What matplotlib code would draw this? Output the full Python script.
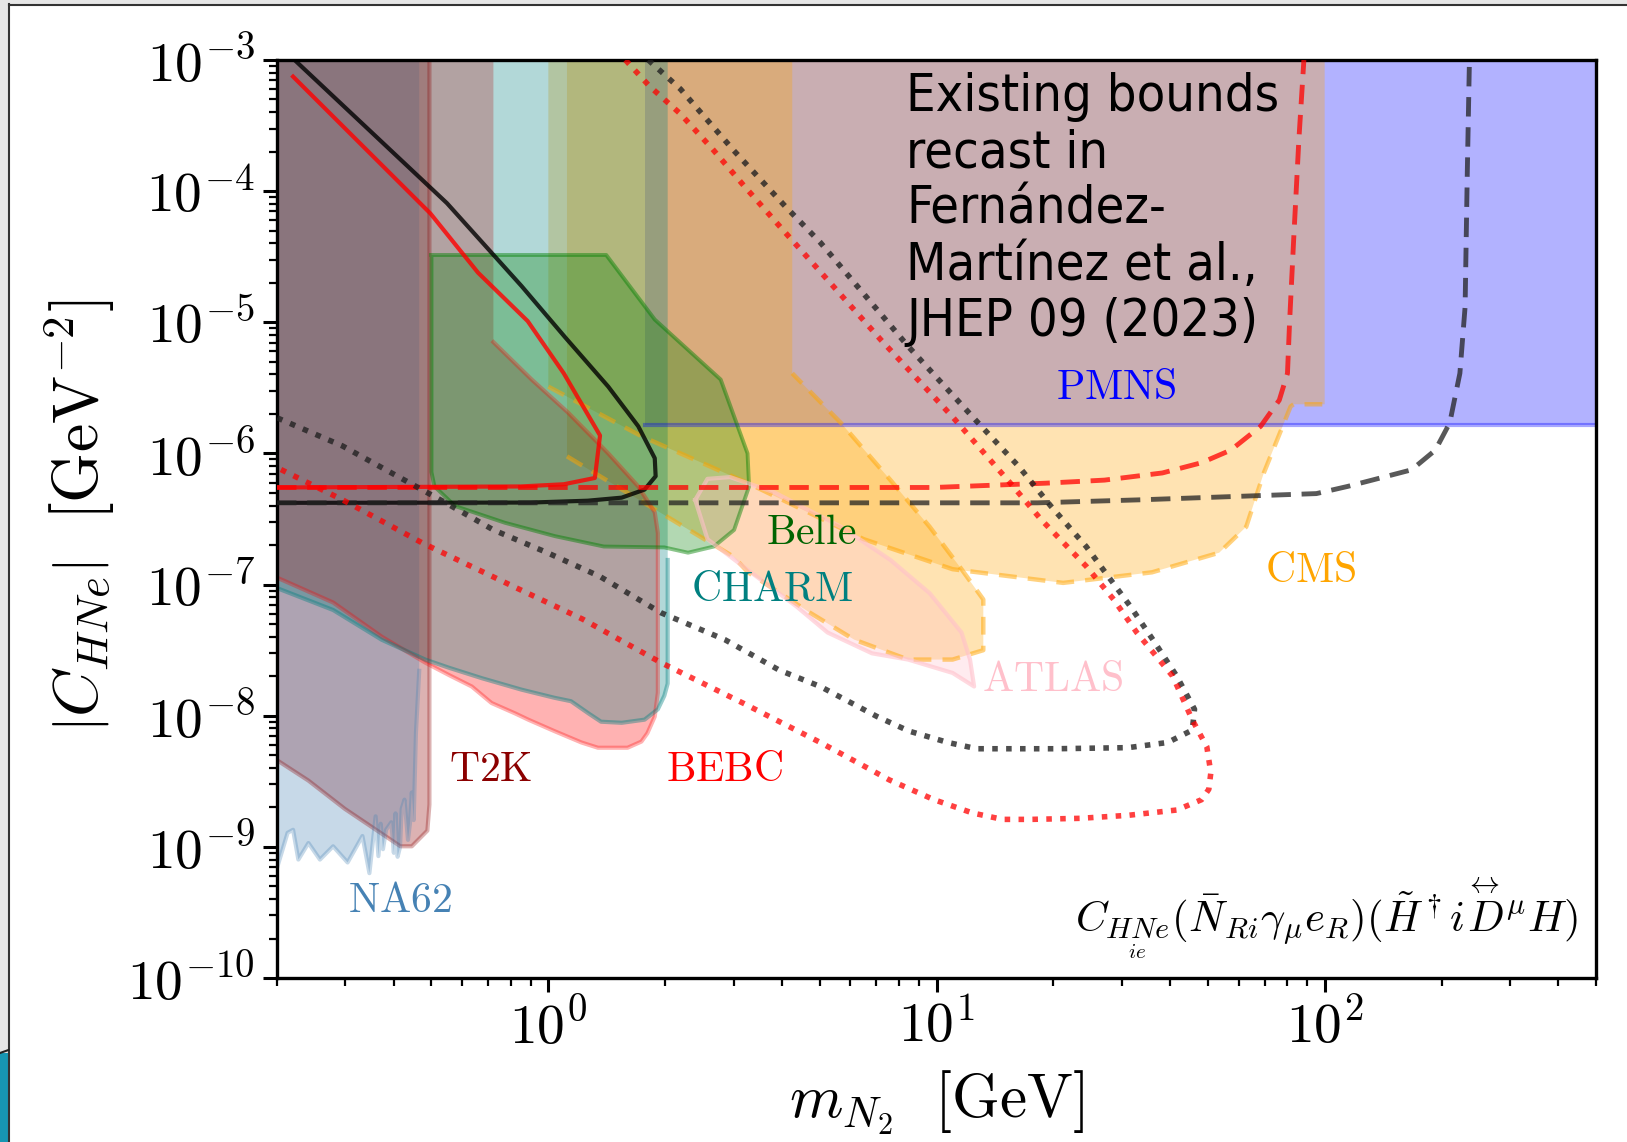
import numpy as np
import matplotlib
matplotlib.use("Agg")
import matplotlib.pyplot as plt
from matplotlib.ticker import LogLocator, FuncFormatter, NullFormatter
from matplotlib.patches import Rectangle
from matplotlib.lines import Line2D

plt.rcParams['mathtext.fontset'] = 'cm'
plt.rcParams['font.family'] = ['DejaVu Sans']

# ---------------- axis ranges ----------------
XMIN, XMAX = 0.2, 500.0
YMIN, YMAX = 1e-10, 1e-3

# ---------------- excluded regions (lower boundaries in GeV, GeV^-2) ----------------
na62_m = [0.200, 0.213, 0.220, 0.227, 0.241, 0.258, 0.279, 0.304, 0.332, 0.346, 0.359,
          0.365, 0.370, 0.375, 0.382, 0.394, 0.400, 0.404, 0.409, 0.415, 0.419, 0.426,
          0.435, 0.440, 0.445, 0.450, 0.456, 0.465]
na62_c = [6.9e-10, 1.28e-9, 1.35e-9, 8.0e-10, 1.07e-9, 8.0e-10, 1.01e-9, 7.6e-10, 1.21e-9,
          6.3e-10, 1.71e-9, 8.5e-10, 1.5e-9, 9.6e-10, 1.35e-9, 1.54e-9, 9.0e-10, 1.8e-9,
          8.4e-10, 1.0e-9, 1.95e-9, 2.29e-9, 1.13e-9, 1.5e-9, 2.6e-9, 1.6e-9, 7.4e-9, 2.2e-8]

t2k_m = [0.200, 0.241, 0.299, 0.340, 0.416, 0.445, 0.488, 0.494]
t2k_c = [4.58e-9, 3.2e-9, 1.95e-9, 1.51e-9, 1.01e-9, 1.01e-9, 1.33e-9, 2.1e-9]

bebc_low_m = [0.200, 0.279, 0.3725, 0.482, 0.555, 0.635, 0.714, 0.822, 0.89, 1.037, 1.217,
              1.342, 1.60, 1.737, 1.80, 1.88, 1.915, 1.915]
bebc_low_c = [1.13e-7, 7.3e-8, 4.0e-8, 2.54e-8, 2.04e-8, 1.67e-8, 1.25e-8, 1.04e-8, 9.3e-9,
              7.63e-9, 6.25e-9, 5.7e-9, 5.7e-9, 6.35e-9, 7.36e-9, 9.85e-9, 1.50e-8, 2.47e-7]
bebc_top_m = [1.88, 1.705, 1.427, 1.124, 0.906, 0.722]
bebc_top_c = [3.56e-7, 5.6e-7, 1.0e-6, 2.05e-6, 3.66e-6, 7.06e-6]

charm_m = [0.200, 0.279, 0.3725, 0.482, 0.555, 0.675, 0.853, 1.037, 1.144, 1.27, 1.367,
           1.545, 1.77, 1.915, 1.99, 2.03, 2.03]
charm_c = [9.4e-8, 6.4e-8, 3.79e-8, 2.68e-8, 2.32e-8, 1.93e-8, 1.58e-8, 1.37e-8, 1.29e-8,
           1.04e-8, 9.0e-9, 8.83e-9, 9.33e-9, 1.12e-8, 1.42e-8, 1.76e-8, 1.54e-7]

belle_m = [0.50, 1.41, 1.88, 2.78, 3.26, 3.29, 3.01, 2.67, 2.29, 1.99, 1.39, 1.04, 0.773,
           0.575, 0.509, 0.50]
belle_c = [3.26e-5, 3.26e-5, 1.05e-5, 3.66e-6, 1.0e-6, 5.6e-7, 2.61e-7, 1.95e-7, 1.75e-7,
           1.92e-7, 1.95e-7, 2.34e-7, 2.96e-7, 3.97e-7, 5.6e-7, 7.2e-7]

atlas_m = [2.39, 2.57, 3.35, 4.36, 5.24, 6.82, 8.45, 11.0, 12.5, 12.2, 11.6, 9.6, 7.61,
           5.67, 3.83, 2.94, 2.57]
atlas_c = [4.42e-7, 2.22e-7, 1.22e-7, 6.8e-8, 4.31e-8, 2.99e-8, 2.68e-8, 2.12e-8, 1.67e-8,
           2.68e-8, 4.31e-8, 8.6e-8, 1.54e-7, 2.76e-7, 5.03e-7, 6.6e-7, 6.4e-7]

cms_a_m = [1.0, 1.74, 3.27, 6.49, 11.0, 21.2, 35.9, 53.5, 62.8, 69.7, 81.7, 83.2, 100.0]
cms_a_c = [3.23e-6, 1.35e-6, 5.93e-7, 2.22e-7, 1.31e-7, 1.03e-7, 1.24e-7, 1.75e-7, 2.76e-7,
           7.1e-7, 2.28e-6, 2.37e-6, 2.37e-6]

cms_b_m = [1.117, 3.0, 3.27, 4.72, 6.14, 8.45, 11.0, 13.2, 13.2, 11.6, 9.6, 7.61, 5.67, 4.25]
cms_b_c = [9.5e-7, 1.63e-7, 1.24e-7, 6.1e-8, 3.8e-8, 2.68e-8, 2.68e-8, 3.16e-8, 7.7e-8,
           1.31e-7, 2.76e-7, 6.26e-7, 1.71e-6, 4.08e-6]

pmns_m = [1.77, 500.0]
pmns_c = 1.64e-6

# ---------------- projected sensitivities ----------------
solid_black_m = [0.222, 0.548, 0.853, 1.103, 1.427, 1.705, 1.88, 1.89, 1.77, 1.545, 1.263, 0.9, 0.2]
solid_black_c = [1e-3, 8.1e-5, 1.89e-5, 7.73e-6, 3.23e-6, 1.61e-6, 9.2e-7, 6.7e-7, 5.3e-7,
                 4.6e-7, 4.36e-7, 4.22e-7, 4.2e-7]

solid_red_m = [0.22, 0.497, 0.659, 0.885, 1.096, 1.359, 1.318, 1.096, 0.848, 0.2]
solid_red_c = [7.47e-4, 6.75e-5, 2.39e-5, 1.02e-5, 4.08e-6, 1.37e-6, 6.5e-7, 5.82e-7, 5.6e-7, 5.5e-7]

dashed_red_m = [0.2, 9.85, 19.1, 27.1, 38.2, 48.2, 57.3, 68.4, 76.4, 80.2, 81.2, 83.2, 85.8, 88.4]
dashed_red_c = [5.5e-7, 5.5e-7, 5.93e-7, 6.26e-7, 7.1e-7, 8.5e-7, 1.06e-6, 1.61e-6, 2.55e-6,
                4.08e-6, 9.97e-6, 4.28e-5, 2.46e-4, 1e-3]

dashed_black_m = [0.2, 18.2, 33.6, 95.2, 114.5, 132.5, 167.4, 192.8, 210, 223, 230, 233, 236]
dashed_black_c = [4.2e-7, 4.2e-7, 4.43e-7, 4.94e-7, 5.6e-7, 6.26e-7, 7.5e-7, 1.06e-6, 1.71e-6,
                  4.08e-6, 1.31e-5, 1.37e-4, 1e-3]

dotted_black_m = [1.81, 2.19, 3.0, 4.07, 5.02, 8.45, 12.6, 16.3, 19.7, 24.3, 31.6, 36.1, 41.6,
                  46.2, 45.6, 39.4, 31.2, 20.3, 12.7, 10.7, 8.5, 7.03, 5.02, 3.93, 2.85, 1.95,
                  1.36, 0.994, 0.722, 0.538, 0.295, 0.2]
dotted_black_c = [1e-3, 6.0e-4, 2.05e-4, 7.7e-5, 4.06e-5, 6.56e-6, 1.80e-6, 7.94e-7, 3.97e-7,
                  1.95e-7, 6.8e-8, 3.8e-8, 2.0e-8, 1.12e-8, 7.77e-9, 6.25e-9, 5.71e-9, 5.6e-9,
                  5.6e-9, 6.25e-9, 7.63e-9, 9.85e-9, 1.67e-8, 2.23e-8, 3.8e-8, 6.1e-8, 1.15e-7,
                  1.75e-7, 2.61e-7, 4.28e-7, 1.14e-6, 1.87e-6]

dotted_red_m = [1.58, 1.82, 2.19, 2.65, 3.19, 4.07, 5.02, 7.2, 11.0, 15.5, 18.6, 24.3, 28.6,
                32.8, 40.6, 45.6, 49.7, 50.9, 50.3, 48.2, 41.6, 31.2, 23.4, 17.5, 14.8, 12.4,
                9.85, 7.56, 6.37, 5.02, 3.17, 1.95, 1.224, 0.807, 0.476, 0.295, 0.2]
dotted_red_c = [1e-3, 6.34e-4, 3.88e-4, 2.09e-4, 1.10e-4, 4.86e-5, 2.43e-5, 7.31e-6, 1.90e-6,
                5.93e-7, 3.13e-7, 1.38e-7, 7.7e-8, 4.31e-8, 2.0e-8, 9.3e-9, 5.8e-9, 3.68e-9,
                2.75e-9, 2.29e-9, 1.91e-9, 1.74e-9, 1.65e-9, 1.62e-9, 1.62e-9, 1.81e-9, 2.29e-9,
                3.24e-9, 4.27e-9, 6.25e-9, 1.25e-8, 2.54e-8, 5.46e-8, 9.77e-8, 2.06e-7, 4.43e-7,
                7.8e-7]

# experiment labels: (text, colour, mass, coefficient)
exp_labels = [("NA62", "steelblue", 0.416, 3.92e-10),
              ("T2K", "darkred", 0.71, 3.89e-9),
              ("BEBC", "red", 2.85, 3.89e-9),
              ("CHARM", "teal", 3.78, 9.25e-8),
              ("Belle", "darkgreen", 4.75, 2.52e-7),
              ("ATLAS", "pink", 19.9, 1.9e-8),
              ("CMS", "orange", 91.8, 1.29e-7),
              ("PMNS", "blue", 29.0, 3.23e-6)]

# ---------------- figure ----------------
W, H = 1627, 1142
fig = plt.figure(figsize=(W / 100, H / 100), dpi=100)
ax = fig.add_axes([277 / W, 1 - 978 / H, (1596 - 277) / W, (978 - 60) / H])
ax.set_xscale('log')
ax.set_yscale('log')
ax.set_xlim(XMIN, XMAX)
ax.set_ylim(YMIN, YMAX)

A = 0.3

def up_to_top(m, c, left, right):
    """Polygon of a region bounded below by (m, c) and extending to the top edge."""
    xs = [left] + list(m) + [right]
    ys = [YMAX] + list(c) + [YMAX]
    return xs, ys

# PMNS band
ax.fill_between(pmns_m, pmns_c, YMAX, color='blue', alpha=A, lw=0, zorder=1)
ax.plot(pmns_m, [pmns_c, pmns_c], color='blue', alpha=0.35, lw=3, zorder=2)

# CMS (two searches)
xs, ys = up_to_top(cms_a_m, cms_a_c, cms_a_m[0], cms_a_m[-1])
ax.fill(xs, ys, color='orange', alpha=A, lw=0, zorder=1)
xs, ys = up_to_top(cms_b_m, cms_b_c, cms_b_m[0], cms_b_m[-1])
ax.fill(xs, ys, color='orange', alpha=A, lw=0, zorder=1)
ax.plot(cms_a_m, cms_a_c, color='orange', alpha=0.5, lw=3.2, ls=(0, (4, 2.5)), zorder=2)
ax.plot(cms_b_m, cms_b_c, color='orange', alpha=0.5, lw=3.2, ls=(0, (4, 2.5)), zorder=2)

# T2K
xs, ys = up_to_top(t2k_m, t2k_c, t2k_m[0], t2k_m[-1])
ax.fill(xs, ys, color='darkred', alpha=A, lw=0, zorder=1)
ax.plot(list(t2k_m) + [t2k_m[-1]], list(t2k_c) + [YMAX], color='darkred', alpha=0.3, lw=3, zorder=2)

# NA62
xs, ys = up_to_top(na62_m, na62_c, na62_m[0], na62_m[-1])
ax.fill(xs, ys, color='steelblue', alpha=A, lw=0, zorder=1)
ax.plot(na62_m, na62_c, color='steelblue', alpha=0.3, lw=3, zorder=2)

# BEBC
bebc_x = [0.2] + bebc_low_m + bebc_top_m + [bebc_top_m[-1]]
bebc_y = [YMAX] + bebc_low_c + bebc_top_c + [YMAX]
ax.fill(bebc_x, bebc_y, color='red', alpha=A, lw=0, zorder=1)
ax.plot(bebc_low_m + bebc_top_m, bebc_low_c + bebc_top_c, color='red', alpha=0.3, lw=3, zorder=2)

# CHARM
xs, ys = up_to_top(charm_m, charm_c, charm_m[0], charm_m[-1])
ax.fill(xs, ys, color='teal', alpha=A, lw=0, zorder=1)
ax.plot(charm_m, charm_c, color='teal', alpha=0.4, lw=3, zorder=2)

# Belle
ax.fill(belle_m, belle_c, facecolor='green', alpha=A, lw=0, zorder=1)
ax.plot(belle_m + belle_m[:1], belle_c + belle_c[:1], color='green', alpha=0.45, lw=2.8, zorder=2)

# ATLAS
ax.fill(atlas_m, atlas_c, facecolor='pink', alpha=A, lw=0, zorder=1)
ax.plot(atlas_m + atlas_m[:1], atlas_c + atlas_c[:1], color='pink', alpha=0.6, lw=3, zorder=2)

# sensitivity curves
dash = (0, (4, 2.2))
dots = (0, (1, 1.5))
ax.plot(solid_black_m, solid_black_c, color='black', alpha=0.8, lw=3, zorder=3)
ax.plot(solid_red_m, solid_red_c, color='red', alpha=0.8, lw=3, zorder=3)
ax.plot(dashed_red_m, dashed_red_c, color='red', alpha=0.75, lw=3.5, ls=dash, zorder=3)
ax.plot(dashed_black_m, dashed_black_c, color='#222222', alpha=0.75, lw=3.5, ls=dash, zorder=3)
ax.plot(dotted_black_m, dotted_black_c, color='#222222', alpha=0.8, lw=4, ls=dots, zorder=3)
ax.plot(dotted_red_m, dotted_red_c, color='red', alpha=0.75, lw=4, ls=dots, zorder=3)

# labels
for name, col, xm, yc in exp_labels:
    ax.text(xm, yc, r'$\mathrm{%s}$' % name, color=col, fontsize=30,
            ha='center', va='center', zorder=4)

ax.text(0.477, 0.987, "Existing bounds\nrecast in\nFernández-\nMartínez et al.,\nJHEP 09 (2023)",
        transform=ax.transAxes, ha='left', va='top', fontsize=37.5,
        family=['DejaVu Sans'], fontstretch='condensed', linespacing=1.16,
        color='black', zorder=4)

ax.text(0.986, 0.05,
        r'$C_{\underset{ie}{HNe}}(\bar{N}_{Ri}\gamma_\mu e_R)(\tilde{H}^\dagger i\overset{\leftrightarrow}{D}^\mu H)$',
        transform=ax.transAxes, ha='right', va='baseline', fontsize=31, zorder=4)

# ticks
dec_fmt = FuncFormatter(lambda v, p: r'$10^{%d}$' % int(round(np.log10(v))))
for axis in (ax.xaxis, ax.yaxis):
    axis.set_major_locator(LogLocator(base=10, numticks=30))
    axis.set_minor_locator(LogLocator(base=10, subs=np.arange(2, 10) * 1.0, numticks=200))
    axis.set_major_formatter(dec_fmt)
    axis.set_minor_formatter(NullFormatter())
ax.tick_params(which='major', direction='out', length=10, width=2.2, labelsize=40, pad=6)
ax.tick_params(which='minor', direction='out', length=6, width=1.6)
ax.tick_params(top=False, right=False, which='both')
for s in ax.spines.values():
    s.set_linewidth(2.4)
    s.set_color('black')

fig.text(936 / W, 1 - 1103 / H, r'$m_{N_2}\ \ [\mathrm{GeV}]$', fontsize=44,
         ha='center', va='center')
fig.text(80 / W, 1 - 516 / H, r'$\left|C_{HNe}\right|\ \ [\mathrm{GeV}^{-2}]$', fontsize=46,
         ha='center', va='center', rotation=90)

# slide frame
fig.patches.append(Rectangle((0, 0), 8 / W, 1, transform=fig.transFigure,
                             facecolor='#e6e6e6', edgecolor='none', zorder=0))
fig.patches.append(Rectangle((0, 1 - 4 / H), 1, 4 / H, transform=fig.transFigure,
                             facecolor='#e6e6e6', edgecolor='none', zorder=0))
fig.patches.append(Rectangle((0, 0), 8 / W, (H - 1053) / H, transform=fig.transFigure,
                             facecolor='#1796b2', edgecolor='none', zorder=1))
fig.add_artist(Line2D([8.5 / W, 8.5 / W], [0, 1 - 4 / H], transform=fig.transFigure,
                      color='#333333', lw=1.5))
fig.add_artist(Line2D([8.5 / W, 1], [1 - 4.5 / H, 1 - 4.5 / H], transform=fig.transFigure,
                      color='#333333', lw=1.5))
fig.add_artist(Line2D([0, 8.5 / W], [(H - 1053) / H, (H - 1050) / H], transform=fig.transFigure,
                      color='#222222', lw=1.5))

fig.savefig('out.png', dpi=100)
